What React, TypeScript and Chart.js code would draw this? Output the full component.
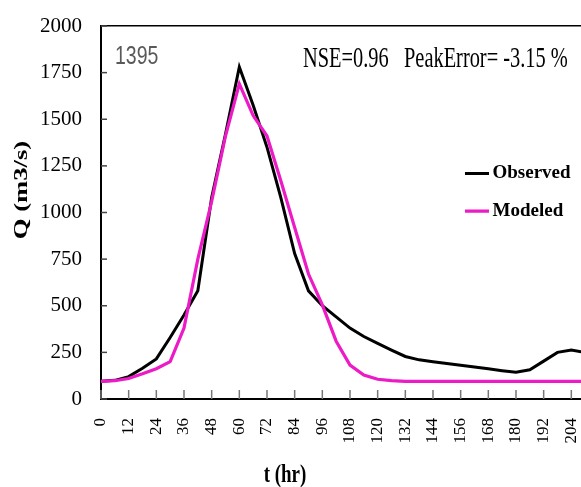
import React, { useEffect, useRef } from 'react';
import { Chart, registerables } from 'chart.js';

Chart.register(...registerables);

// ---- data ----
const hours = [0, 6, 12, 18, 24, 30, 36, 42, 48, 54, 60, 66, 72, 78, 84, 90, 96, 102, 108, 114, 120, 126, 132, 138, 144, 150, 156, 162, 168, 174, 180, 186, 192, 198, 204, 210];
const observed = [95, 100, 120, 165, 215, 330, 450, 580, 1080, 1420, 1780, 1575, 1350, 1080, 780, 580, 500, 440, 380, 335, 298, 262, 228, 210, 200, 190, 181, 171, 162, 152, 143, 157, 203, 250, 262, 250];
const modeled = [95, 98, 110, 135, 162, 200, 380, 750, 1060, 1410, 1690, 1520, 1410, 1170, 920, 670, 505, 310, 182, 128, 106, 99, 95, 95, 95, 95, 95, 95, 95, 95, 95, 95, 95, 95, 95, 95];
const xTickValues = [0, 12, 24, 36, 48, 60, 72, 84, 96, 108, 120, 132, 144, 156, 168, 180, 192, 204];
const yTickValues = [0, 250, 500, 750, 1000, 1250, 1500, 1750, 2000];
const seriesNames = ['Observed', 'Modeled'];
const stationLabel = '1395';
const statsLabel = 'NSE=0.96   PeakError= -3.15 %';
const xTitle = 't (hr)';
const yTitle = 'Q (m3/s)';

const SERIF = '"Liberation Serif", "Times New Roman", serif';
const SANS = '"Liberation Sans", Arial, sans-serif';
const OBS_COLOR = '#000000';
const MOD_COLOR = '#EC1BC6';

function drawStretched(
  ctx: CanvasRenderingContext2D,
  text: string,
  x: number,
  y: number,
  font: string,
  sx: number,
  sy: number,
  align: CanvasTextAlign,
  color: string,
  rotate = 0
) {
  ctx.save();
  ctx.translate(x, y);
  if (rotate) ctx.rotate(rotate);
  ctx.scale(sx, sy);
  ctx.font = font;
  ctx.fillStyle = color;
  ctx.textAlign = align;
  ctx.textBaseline = 'middle';
  ctx.fillText(text, 0, 0);
  ctx.restore();
}

const overlayPlugin = {
  id: 'overlay',
  afterLayout(chart: any) {
    const lg = chart.legend;
    const ca = chart.chartArea;
    if (!lg || !ca) return;
    const pad = 18.7;
    lg.left = ca.left + 370 - pad;
    lg.right = ca.right;
    lg.top = ca.top + 138 - pad;
    lg.bottom = lg.top + 130;
    lg.width = lg.right - lg.left;
    lg.height = lg.bottom - lg.top;
  },
  beforeDatasetsDraw(chart: any) {
    const { ctx, chartArea: ca, scales } = chart;
    ctx.save();
    ctx.lineWidth = 1.5;
    ctx.strokeStyle = '#777';
    scales.x.ticks.forEach((t: any) => {
      const px = scales.x.getPixelForValue(t.value);
      ctx.beginPath();
      ctx.moveTo(px, ca.bottom);
      ctx.lineTo(px, ca.bottom - 9);
      ctx.stroke();
    });
    ctx.strokeStyle = '#444';
    scales.y.ticks.forEach((t: any) => {
      const py = scales.y.getPixelForValue(t.value);
      ctx.beginPath();
      ctx.moveTo(ca.left, py);
      ctx.lineTo(ca.left + 6, py);
      ctx.stroke();
    });
    ctx.restore();
  },
  afterDraw(chart: any) {
    const { ctx, chartArea: ca } = chart;
    drawStretched(ctx, stationLabel, ca.left + 14, ca.top + 31.5, `19.5px ${SANS}`, 1, 1.3, 'left', '#595959');
    drawStretched(ctx, statsLabel, ca.left + 202, ca.top + 33.5, `20.4px ${SERIF}`, 1, 1.4, 'left', '#000');
    drawStretched(ctx, xTitle, ca.left + 184, ca.bottom + 77, `bold 19px ${SERIF}`, 1, 1.3, 'center', '#000');
    drawStretched(ctx, yTitle, 22, ca.top + 164, `bold 19px ${SERIF}`, 1.4, 1, 'center', '#000', -Math.PI / 2);
  },
};

export default function App() {
  const canvasRef = useRef<HTMLCanvasElement | null>(null);

  useEffect(() => {
    const canvas = canvasRef.current;
    if (!canvas) return;
    const chart = new Chart(canvas, {
      type: 'line',
      data: {
        datasets: [
          {
            label: seriesNames[0],
            data: hours.map((h, i) => ({ x: h, y: observed[i] })),
            borderColor: OBS_COLOR,
            backgroundColor: OBS_COLOR,
            borderWidth: 3,
            pointRadius: 0,
            tension: 0,
            order: 1,
          },
          {
            label: seriesNames[1],
            data: hours.map((h, i) => ({ x: h, y: modeled[i] })),
            borderColor: MOD_COLOR,
            backgroundColor: MOD_COLOR,
            borderWidth: 3.2,
            pointRadius: 0,
            tension: 0,
            order: 0,
          },
        ],
      },
      options: {
        animation: false,
        responsive: false,
        devicePixelRatio: 1,
        layout: { padding: 0 },
        scales: {
          x: {
            type: 'linear',
            position: 'bottom',
            min: 0,
            max: 208.2,
            afterBuildTicks: (s: any) => {
              s.ticks = xTickValues.map((v) => ({ value: v }));
            },
            afterFit: (s: any) => {
              s.height = 88;
              s.paddingLeft = 0;
              s.paddingRight = 0;
            },
            ticks: {
              autoSkip: false,
              minRotation: 90,
              maxRotation: 90,
              padding: 19,
              color: '#000',
              font: { family: SERIF, size: 17 },
              callback: (v: any) => String(v),
            },
            grid: { display: false, drawTicks: false },
            border: { display: true, color: '#000', width: 2 },
          },
          x2: {
            type: 'linear',
            position: 'top',
            min: 0,
            max: 208.2,
            ticks: { display: false },
            grid: { display: false, drawTicks: false },
            border: { display: true, color: '#000', width: 1.5 },
            afterFit: (s: any) => {
              s.height = 26;
              s.paddingLeft = 0;
              s.paddingRight = 0;
            },
          },
          y: {
            type: 'linear',
            position: 'left',
            min: 0,
            max: 2000,
            afterBuildTicks: (s: any) => {
              s.ticks = yTickValues.map((v) => ({ value: v }));
            },
            afterFit: (s: any) => {
              s.width = 101;
              s.paddingTop = 0;
              s.paddingBottom = 0;
            },
            ticks: {
              padding: 19,
              color: '#000',
              font: { family: SERIF, size: 21 },
              callback: (v: any) => String(v),
            },
            grid: { display: false, drawTicks: false },
            border: { display: true, color: '#000', width: 2 },
          },
        },
        plugins: {
          legend: {
            display: true,
            position: 'right',
            align: 'start',
            maxWidth: 0.001,
            labels: {
              color: '#000',
              font: { family: SERIF, size: 19, weight: 'bold' },
              usePointStyle: true,
              pointStyle: 'line',
              boxWidth: 12,
              boxHeight: 17,
              padding: 18.7,
              sort: (a: any, b: any) => a.datasetIndex - b.datasetIndex,
            },
          },
          tooltip: { enabled: false },
        },
      } as any,
      plugins: [overlayPlugin],
    });
    return () => chart.destroy();
  }, []);

  return (
    <div style={{ position: 'fixed', left: 0, top: 0, width: 581, height: 487, background: '#fff' }}>
      <canvas ref={canvasRef} width={581} height={487} style={{ display: 'block', width: 581, height: 487 }} />
    </div>
  );
}
